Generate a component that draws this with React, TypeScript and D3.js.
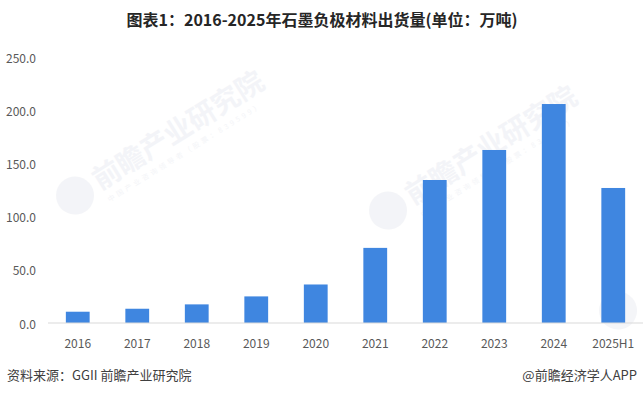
import React from "react";
import * as d3 from "d3";

// 石墨负极材料出货量 (万吨)
const years = ["2016", "2017", "2018", "2019", "2020", "2021", "2022", "2023", "2024", "2025H1"];
const shipments = [10.6, 13.4, 17.5, 25.0, 36.2, 70.6, 134.4, 162.6, 205.8, 126.9];
const yTicks = [0, 50, 100, 150, 200, 250];

const title = "图表1：2016-2025年石墨负极材料出货量(单位：万吨)";
const source = "资料来源：GGII 前瞻产业研究院";
const credit = "@前瞻经济学人APP";

const width = 644;
const height = 395;
const marginLeft = 48;
const marginRight = 1;
const plotTop = 57;
const plotBottom = 323;
const font = "'Noto Sans CJK SC', 'Noto Sans', sans-serif";

const Watermark = ({ x, y, logoOnly = false }: { x: number; y: number; logoOnly?: boolean }) => (
  <g transform={`translate(${x},${y}) rotate(-32)`} opacity={0.4}>
    <circle cx={-20} cy={0} r={19} fill="#e3e6ee" />
    {!logoOnly && (
      <>
        <text x={4} y={9} fontSize={28} fontWeight="bold" fill="#e3e6ee" fontFamily={font}>
          前瞻产业研究院
        </text>
        <text x={6} y={24} fontSize={7} fill="#e3e6ee" fontFamily={font} letterSpacing={3}>
          中国产业咨询领导者（股票：839599）
        </text>
      </>
    )}
  </g>
);

export default function App() {
  const x = d3.scaleBand<string>()
    .domain(years)
    .range([marginLeft, width - marginRight])
    .paddingInner(0.6)
    .paddingOuter(0.3);
  const y = d3.scaleLinear().domain([0, 250]).range([plotBottom, plotTop]);

  return (
    <svg width={width} height={height} style={{ position: "absolute", left: 0, top: 0, background: "#fff" }}>
      <Watermark x={92} y={185} />
      <Watermark x={405} y={200} />
      <Watermark x={635} y={300} logoOnly />

      <text x={width / 2} y={19} textAnchor="middle" dominantBaseline="central"
        fontSize={16} fontWeight="bold" fill="#262626" fontFamily={font}>
        {title}
      </text>

      <g>
        {yTicks.map((t) => (
          <text key={t} x={36} y={y(t)} textAnchor="end" dominantBaseline="central"
            fontSize={12} fill="#595959" fontFamily={font}>
            {d3.format(".1f")(t)}
          </text>
        ))}
      </g>

      <g>
        {years.map((yr, i) => (
          <rect key={yr} x={x(yr)} y={y(shipments[i])} width={x.bandwidth()}
            height={y(0) - y(shipments[i])} fill="#3f86e0" />
        ))}
      </g>

      <line x1={marginLeft} x2={width - marginRight} y1={y(0)} y2={y(0)} stroke="#d9d9d9" strokeWidth={1.2} />

      <g>
        {years.map((yr) => (
          <text key={yr} x={(x(yr) ?? 0) + x.bandwidth() / 2} y={342} textAnchor="middle"
            dominantBaseline="central" fontSize={12} fill="#595959" fontFamily={font}>
            {yr}
          </text>
        ))}
      </g>

      <text x={7} y={374} dominantBaseline="central" fontSize={13} fill="#404040" fontFamily={font}>
        {source}
      </text>
      <text x={637} y={374} textAnchor="end" dominantBaseline="central" fontSize={13} fill="#404040" fontFamily={font}>
        {credit}
      </text>
    </svg>
  );
}
